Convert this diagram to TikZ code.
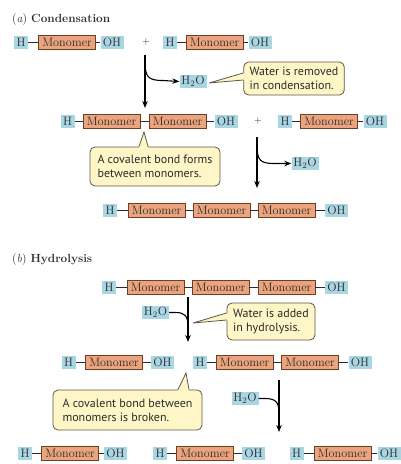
\documentclass[tikz,border=0pt]{standalone}
\usepackage{fontspec}
\newfontfamily\callfont{PT Sans}
\usetikzlibrary{calc,arrows.meta}
\definecolor{hbg}{HTML}{A9D6E2}
\definecolor{mbg}{HTML}{EBA47E}
\definecolor{mbd}{HTML}{6E3F25}
\definecolor{cbg}{HTML}{FFF6C8}
\definecolor{cbd}{HTML}{5E5646}
\definecolor{txt}{HTML}{2B2B2B}
\begin{document}
\begin{tikzpicture}[x=1pt,y=-1pt,
  grp/.style={inner sep=0pt, minimum height=13pt, text=txt, font=\fontsize{12.2}{12}\selectfont},
  hb/.style={grp, fill=hbg, minimum width=14pt},
  ob/.style={grp, fill=hbg, minimum width=23pt},
  wb/.style={grp, fill=hbg, minimum width=27pt},
  mb/.style={grp, fill=mbg, draw=mbd, line width=0.7pt, minimum width=57pt, minimum height=14pt},
  bond/.style={draw=txt, line width=0.7pt},
  plus/.style={text=txt, font=\fontsize{10}{10}\selectfont, inner sep=0pt},
  rx/.style={-{Stealth[length=7pt,width=5.5pt]}, line width=1.1pt, draw=black},
  rl/.style={line width=1.1pt, draw=black},
  call/.style={fill=cbg, draw=cbd, line width=0.8pt, rounded corners=5pt, align=left,
    font=\callfont\fontsize{12}{14}\selectfont, text=txt, inner xsep=6pt, inner ysep=2pt},
  ptrfill/.style={fill=cbg},
  ptrline/.style={draw=cbd, line width=0.8pt},
  ttl/.style={anchor=base west, inner sep=0pt, text=txt, font=\fontsize{11.8}{12}\selectfont}
]
\useasboundingbox (0,0) rectangle (401,464);

% ---------- titles
\node[ttl] (ta) at (12,22) {(\textit{a})\hspace{4pt}\textbf{Condensation}};
\node[ttl] (tb) at (12,262) {(\textit{b})\hspace{4pt}\textbf{Hydrolysis}};

% ---------- row 1
\node[hb] (r1h1) at (21,42) {H};
\node[mb] (r1m1) at (67,42) {Monomer};
\node[ob] (r1o1) at (112,42) {OH};
\node[plus] (r1p) at (146,42) {+};
\node[hb] (r1h2) at (170,42) {H};
\node[mb] (r1m2) at (214.5,42) {Monomer};
\node[ob] (r1o2) at (260,42) {OH};
\draw[bond] (r1h1) -- (r1m1) (r1m1) -- (r1o1) (r1h2) -- (r1m2) (r1m2) -- (r1o2);

% arrow 1
\coordinate (a1s) at (145,55);
\coordinate (a1e) at (145,108);
\coordinate (a1b) at (145,61);
\node[wb] (w1) at (193,81.5) {H\textsubscript{2}O};
\draw[rx] (a1s) -- (a1e);
\draw[rx] (a1b) .. controls ($(a1b)+(0,16)$) and ($(a1b)+(3,19.5)$) .. ($(a1b)+(18,19.5)$) -- (w1.west);

% callout 1
\node[call, minimum width=98pt, minimum height=33pt] (c1) at (294,78.5) {Water is removed\\in condensation.};
\coordinate (c1a) at ($(c1.west)+(0,-5.5)$);
\coordinate (c1b) at ($(c1.west)+(0,1.5)$);
\coordinate (c1t) at (209,83);
\fill[ptrfill] ($(c1a)+(1.3,0)$) -- (c1t) -- ($(c1b)+(1.3,0)$) -- cycle;
\draw[ptrline] (c1a) -- (c1t) -- (c1b);

% ---------- row 2
\node[hb] (r2h1) at (67.5,121) {H};
\node[mb] (r2m1) at (111.5,121) {Monomer};
\node[mb] (r2m2) at (177.5,121) {Monomer};
\node[ob] (r2o1) at (226,121) {OH};
\node[plus] (r2p) at (258,121) {+};
\node[hb] (r2h2) at (285,121) {H};
\node[mb] (r2m3) at (329,121) {Monomer};
\node[ob] (r2o2) at (375,121) {OH};
\draw[bond] (r2h1) -- (r2m1) (r2m1) -- (r2m2) (r2m2) -- (r2o1) (r2h2) -- (r2m3) (r2m3) -- (r2o2);

% callout 2
\node[call, minimum width=130pt, minimum height=39pt] (c2) at (155,166.5) {A covalent bond forms\\between monomers.};
\coordinate (c2a) at ($(c2.north)+(-16,0)$);
\coordinate (c2b) at ($(c2.north)+(-7,0)$);
\coordinate (c2t) at (144,132);
\fill[ptrfill] ($(c2a)+(0,1.3)$) -- (c2t) -- ($(c2b)+(0,1.3)$) -- cycle;
\draw[ptrline] (c2a) -- (c2t) -- (c2b);

% arrow 2
\coordinate (a2s) at (257,137);
\coordinate (a2e) at (257,188);
\coordinate (a2b) at (257,145);
\node[wb] (w2) at (305,163.5) {H\textsubscript{2}O};
\draw[rx] (a2s) -- (a2e);
\draw[rx] (a2b) .. controls ($(a2b)+(0,15)$) and ($(a2b)+(3,18.5)$) .. ($(a2b)+(17,18.5)$) -- (w2.west);

% ---------- row 3
\node[hb] (r3h) at (110,210) {H};
\node[mb] (r3m1) at (156.5,210) {Monomer};
\node[mb] (r3m2) at (221.5,210) {Monomer};
\node[mb] (r3m3) at (286.5,210) {Monomer};
\node[ob] (r3o) at (336.5,210) {OH};
\draw[bond] (r3h) -- (r3m1) (r3m1) -- (r3m2) (r3m2) -- (r3m3) (r3m3) -- (r3o);

% ---------- row 4
\node[hb] (r4h) at (109,287) {H};
\node[mb] (r4m1) at (155.5,287) {Monomer};
\node[mb] (r4m2) at (220.5,287) {Monomer};
\node[mb] (r4m3) at (286.5,287) {Monomer};
\node[ob] (r4o) at (336.5,287) {OH};
\draw[bond] (r4h) -- (r4m1) (r4m1) -- (r4m2) (r4m2) -- (r4m3) (r4m3) -- (r4o);

% arrow 3
\coordinate (a3s) at (188,297);
\coordinate (a3e) at (188,342);
\coordinate (a3j) at (188,327);
\node[wb] (w3) at (155.5,312.5) {H\textsubscript{2}O};
\draw[rx] (a3s) -- (a3e);
\draw[rl] (w3.east) -- ($(w3.east)+(6,0)$) .. controls ($(w3.east)+(16,0)$) and ($(a3j)+(0,-11)$) .. (a3j);

% callout 3
\node[call, minimum width=88pt, minimum height=37pt] (c3) at (271,321.5) {Water is added\\in hydrolysis.};
\coordinate (c3a) at ($(c3.west)+(0,-8.5)$);
\coordinate (c3b) at ($(c3.west)+(0,-1.5)$);
\coordinate (c3t) at (193,323);
\fill[ptrfill] ($(c3a)+(1.3,0)$) -- (c3t) -- ($(c3b)+(1.3,0)$) -- cycle;
\draw[ptrline] (c3a) -- (c3t) -- (c3b);

% ---------- row 5
\node[hb] (r5h1) at (68.5,362) {H};
\node[mb] (r5m1) at (114,362) {Monomer};
\node[ob] (r5o1) at (162.5,362) {OH};
\node[hb] (r5h2) at (200,362) {H};
\node[mb] (r5m2) at (244.5,362) {Monomer};
\node[mb] (r5m3) at (310,362) {Monomer};
\node[ob] (r5o2) at (360,362) {OH};
\draw[bond] (r5h1) -- (r5m1) (r5m1) -- (r5o1) (r5h2) -- (r5m2) (r5m2) -- (r5m3) (r5m3) -- (r5o2);

% callout 4
\node[call, minimum width=149pt, minimum height=40pt] (c4) at (127.5,410) {A covalent bond between\\monomers is broken.};
\coordinate (c4a) at ($(c4.north)+(50.5,0)$);
\coordinate (c4b) at ($(c4.north)+(61.5,0)$);
\coordinate (c4t) at (186,373);
\fill[ptrfill] ($(c4a)+(0,1.3)$) -- (c4t) -- ($(c4b)+(0,1.3)$) -- cycle;
\draw[ptrline] (c4a) -- (c4t) -- (c4b);

% arrow 4
\coordinate (a4s) at (279,380);
\coordinate (a4e) at (279,432);
\coordinate (a4j) at (279,413);
\node[wb] (w4) at (245,398.5) {H\textsubscript{2}O};
\draw[rx] (a4s) -- (a4e);
\draw[rl] (w4.east) -- ($(w4.east)+(6,0)$) .. controls ($(w4.east)+(17,0)$) and ($(a4j)+(0,-11)$) .. (a4j);

% ---------- row 6
\node[hb] (r6h1) at (25,453) {H};
\node[mb] (r6m1) at (70,453) {Monomer};
\node[ob] (r6o1) at (115.5,453) {OH};
\node[hb] (r6h2) at (160,453) {H};
\node[mb] (r6m2) at (205,453) {Monomer};
\node[ob] (r6o2) at (253.5,453) {OH};
\node[hb] (r6h3) at (296.5,453) {H};
\node[mb] (r6m3) at (342.5,453) {Monomer};
\node[ob] (r6o3) at (389,453) {OH};
\draw[bond] (r6h1) -- (r6m1) (r6m1) -- (r6o1) (r6h2) -- (r6m2) (r6m2) -- (r6o2) (r6h3) -- (r6m3) (r6m3) -- (r6o3);
\end{tikzpicture}
\end{document}
